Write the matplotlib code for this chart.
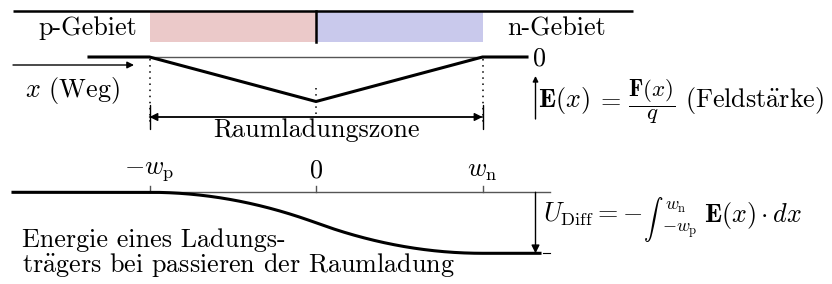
import numpy as np
import matplotlib.pyplot as plt

# positions along x in units of the zone half widths: -w_p, 0, w_n
x_pos = [-1.0, 0.0, 1.0]
x_labels = [r'$-w_{\mathrm{p}}$', r'$0$', r'$w_{\mathrm{n}}$']
# normalised field strength E(x) at those positions (triangle)
field = [0.0, -1.0, 0.0]
# doping regions
regions = ['p-Gebiet', 'n-Gebiet']
region_colors = ['#ebc9c9', '#c9c9ec']

plt.rcParams['font.family'] = ['cmr10', 'DejaVu Serif']
plt.rcParams['mathtext.fontset'] = 'cm'
plt.rcParams['font.size'] = 18.8


def px(p):
    # horizontal pixel -> data units (0 at x=316 px, w = 166.5 px)
    return (p - 316) / 166.5


fig = plt.figure(figsize=(8.32, 2.84), dpi=100)
ax = fig.add_axes([0, 0, 1, 1])
ax.set_xlim(px(0), px(832))
ax.set_ylim(284, 0)
ax.axis('off')
renderer = fig.canvas.get_renderer()


def after(t, gap):
    # data x just right of text t, plus a gap in pixels
    bb = t.get_window_extent(renderer)
    return ax.transData.inverted().transform((bb.x1 + gap, 0))[0]


# --- doping band ---
ax.plot([px(13), px(633)], [11, 11], color='k', lw=1.8, solid_capstyle='butt')
ax.fill_between(x_pos[0:2], 12, 42, color=region_colors[0], lw=0)
ax.fill_between(x_pos[1:3], 12, 42, color=region_colors[1], lw=0)
ax.plot([x_pos[1], x_pos[1]], [11, 42], color='k', lw=1.8)
ax.text(px(137), 35, regions[0], ha='right', va='baseline')
ax.text(px(507), 35, regions[1], ha='left', va='baseline')

# --- field strength ---
y_f0, f_scale = 57, 44.5
ax.plot([x_pos[0], x_pos[-1]], [y_f0, y_f0], color='#555555', lw=1.0)
fx = [px(89)] + x_pos + [px(527)]
fy = [y_f0 - f_scale * v for v in [0.0] + field + [0.0]]
ax.plot(fx, fy, color='k', lw=2.2)
ax.text(px(533), 65, '0', ha='left', va='baseline')

ax.annotate('', xy=(px(134), 65), xytext=(px(13), 65),
            arrowprops=dict(arrowstyle='-|>', lw=1.0, color='k',
                            mutation_scale=10, shrinkA=0, shrinkB=0))
ax.text(px(25), 97, r'$x$ (Weg)', ha='left', va='baseline')

dots = (0, (1, 3))
ax.plot([x_pos[0]] * 2, [59, 124], color='k', lw=1.1, ls=dots)
ax.plot([x_pos[2]] * 2, [59, 124], color='k', lw=1.1, ls=dots)
ax.plot([x_pos[1]] * 2, [88, 114], color='k', lw=1.1, ls=dots)

ax.annotate('', xy=(x_pos[0], 117), xytext=(x_pos[2], 117),
            arrowprops=dict(arrowstyle='|-|,widthA=0.45,widthB=0.45', lw=1.0,
                            color='k', shrinkA=0, shrinkB=0))
ax.annotate('', xy=(x_pos[0], 117), xytext=(x_pos[2], 117),
            arrowprops=dict(arrowstyle='<|-|>', lw=1.0, color='k',
                            mutation_scale=12, shrinkA=0, shrinkB=0))
ax.text(x_pos[1], 137, 'Raumladungszone', ha='center', va='baseline')

# E(x) = F(x)/q (Feldstaerke), pieces placed one after another
ax.annotate('', xy=(px(535.5), 76), xytext=(px(535.5), 119),
            arrowprops=dict(arrowstyle='-|>', lw=1.0, color='k',
                            mutation_scale=8, shrinkA=0, shrinkB=0))
t_e = ax.text(px(538), 107, r'$\mathbf{E}(x)$', ha='left', va='baseline')
t_eq = ax.text(after(t_e, 6), 107, r'$=$', ha='left', va='baseline')
t_fr = ax.text(after(t_eq, 7), 101.5, r'$\dfrac{\mathbf{F}(x)}{q}$',
               ha='left', va='center', fontsize=16.5)
ax.text(after(t_fr, 10), 107, r'(Feldst$\ddot{\mathrm{a}}$rke)',
        ha='left', va='baseline')

# --- energy of a charge carrier: U(x) = -int E dx ---
y_u0, u_scale = 192.3, 61
xg = np.linspace(x_pos[0], x_pos[-1], 201)
eg = np.interp(xg, x_pos, field)
ug = -np.concatenate([[0], np.cumsum((eg[1:] + eg[:-1]) / 2 * np.diff(xg))])
ug = ug / ug[-1]

ax.plot([px(13), px(550)], [y_u0, y_u0], color='#555555', lw=1.0)
for xp, lab in zip(x_pos, x_labels):
    ax.plot([xp, xp], [y_u0 - 6, y_u0], color='#555555', lw=1.0)
    ax.text(xp, 183, lab, ha='center', va='bottom')

ux = np.concatenate([[px(13)], xg, [px(540)]])
uy = y_u0 + u_scale * np.concatenate([[0], ug, [1]])
ax.plot(ux, uy, color='k', lw=2.2)

y_u1 = y_u0 + u_scale
ax.annotate('', xy=(px(535.5), y_u1), xytext=(px(535.5), y_u0),
            arrowprops=dict(arrowstyle='-|>', lw=1.0, color='k',
                            mutation_scale=12, shrinkA=0, shrinkB=0))
ax.plot([px(543), px(550)], [y_u1, y_u1], color='k', lw=0.8)

# U_Diff formula assembled piecewise so the integral looks inline
t_u = ax.text(px(543), 222, r'$U_{\mathrm{Diff}} = -$', ha='left', va='baseline')
t_int = ax.text(after(t_u, 1), 220, r'$\int$', ha='left', va='center', fontsize=14)
ax.text(after(t_int, 1), 207, r'$w_{\mathrm{n}}$', ha='left', va='center',
        fontsize=13)
t_lo = ax.text(after(t_int, -2), 231, r'$-w_{\mathrm{p}}$', ha='left', va='center',
               fontsize=13)
ax.text(after(t_lo, 7), 222, r'$\mathbf{E}(x)\cdot dx$', ha='left', va='baseline')

ax.text(px(22), 247, 'Energie eines Ladungs-', ha='left', va='baseline')
ax.text(px(22), 272, r'tr$\ddot{\mathrm{a}}$gers bei passieren der Raumladung',
        ha='left', va='baseline')

fig.savefig('out.png', dpi=100)
